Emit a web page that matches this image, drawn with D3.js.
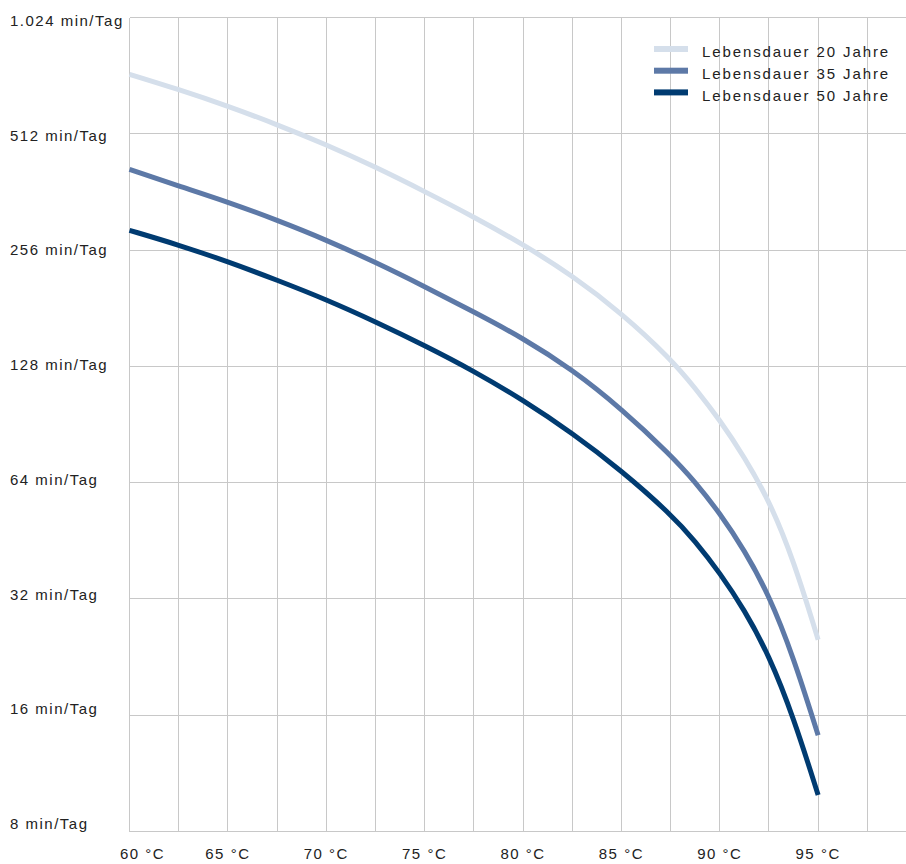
<!DOCTYPE html>
<meta charset="utf-8">
<style>
  body { margin: 0; background: #fff; }
  svg { font-family: "Liberation Sans", Arial, sans-serif; font-size: 15px; fill: #222; }
  .grid line { stroke: #c8c8c8; stroke-width: 1px; shape-rendering: crispEdges; }
  .label { letter-spacing: 1.5px; fill: #222; }
  .legend text { letter-spacing: 1.9px; fill: #222; }
  .series { fill: none; stroke-width: 5px; stroke-linecap: butt; }
</style>
<body>
<div id="chart"></div>
<script src="https://d3js.org/d3.v7.min.js"></script>
<script>
  // temperatures (°C) at which the curves were read
  var temps = [60, 62.5, 65, 67.5, 70, 72.5, 75, 77.5, 80, 82.5, 85, 87.5, 88.75, 90, 91.25, 92.5, 93.75, 95];

  // min/Tag
  var life20 = [730, 667, 604, 541, 480, 420, 363, 312, 265, 220, 176, 134, 112.5, 93, 74.6, 57.7, 40.4, 25.1];
  var life35 = [414, 375, 341, 306, 272, 238, 206, 177, 151.5, 125.6, 99.5, 75.5, 64.3, 53.4, 42.8, 32.8, 22.6, 14.2];
  var life50 = [288, 264, 239, 214, 190.6, 167, 145, 124.5, 104.7, 86, 68.8, 53.1, 45.2, 37.4, 30, 22.9, 15.8, 9.95];

  var seriesNames = ["Lebensdauer 20 Jahre", "Lebensdauer 35 Jahre", "Lebensdauer 50 Jahre"];
  var seriesColors = ["#d5dfeb", "#5d79a7", "#003b71"];

  var yTicks = [1024, 512, 256, 128, 64, 32, 16, 8];
  var yTickLabels = ["1.024 min/Tag", "512 min/Tag", "256 min/Tag", "128 min/Tag",
                     "64 min/Tag", "32 min/Tag", "16 min/Tag", "8 min/Tag"];
  var xGrid = [60, 62.5, 65, 67.5, 70, 72.5, 75, 77.5, 80, 82.5, 85, 87.5, 90, 92.5, 95, 97.5, 100];
  var xTicks = [60, 65, 70, 75, 80, 85, 90, 95];

  var W = 906, H = 864;
  var m = { left: 129.5, right: 916.5, top: 17.5, bottom: 831.5 };

  var x = d3.scaleLinear().domain([60, 100]).range([m.left, m.right]);
  var y = d3.scaleLog().base(2).domain([8, 1024]).range([m.bottom, m.top]);
  // the value labels sit on a slightly tighter spacing than the grid
  var yLab = d3.scaleLog().base(2).domain([8, 1024]).range([829, 26]);

  var svg = d3.select("#chart").append("svg")
      .attr("width", W)
      .attr("height", H);

  // grid
  var grid = svg.append("g").attr("class", "grid");
  grid.selectAll(".h")
      .data(yTicks)
      .enter().append("line")
      .attr("class", "h")
      .attr("x1", m.left).attr("x2", W)
      .attr("y1", function(d) { return y(d); })
      .attr("y2", function(d) { return y(d); });
  grid.selectAll(".v")
      .data(xGrid)
      .enter().append("line")
      .attr("class", "v")
      .attr("x1", function(d) { return x(d); })
      .attr("x2", function(d) { return x(d); })
      .attr("y1", m.top).attr("y2", m.bottom);

  // y labels
  svg.append("g").selectAll("text")
      .data(yTicks)
      .enter().append("text")
      .attr("class", "label")
      .attr("x", 10)
      .attr("y", function(d) { return yLab(d); })
      .text(function(d, i) { return yTickLabels[i]; });

  // x labels
  svg.append("g").selectAll("text")
      .data(xTicks)
      .enter().append("text")
      .attr("class", "label")
      .attr("x", function(d, i) { return i === 0 ? x(d) - 9.5 : x(d); })
      .attr("y", 859)
      .attr("text-anchor", function(d, i) { return i === 0 ? "start" : "middle"; })
      .text(function(d) { return d + " °C"; });

  // curves
  var line = d3.line()
      .x(function(d) { return x(d[0]); })
      .y(function(d) { return y(d[1]); })
      .curve(d3.curveBasis);

  [life20, life35, life50].forEach(function(vals, i) {
    svg.append("path")
        .attr("class", "series")
        .attr("stroke", seriesColors[i])
        .attr("d", line(temps.map(function(t, j) { return [t, vals[j]]; })));
  });

  // legend
  var legend = svg.append("g").attr("class", "legend")
      .attr("transform", "translate(654,49)");
  var item = legend.selectAll("g")
      .data(seriesNames)
      .enter().append("g")
      .attr("transform", function(d, i) { return "translate(0," + (i * 21.7) + ")"; });
  item.append("rect")
      .attr("x", 0).attr("y", -3)
      .attr("width", 34).attr("height", 6)
      .attr("fill", function(d, i) { return seriesColors[i]; });
  item.append("text")
      .attr("x", 48)
      .attr("y", 8.3)
      .text(String);
</script>
</body>
